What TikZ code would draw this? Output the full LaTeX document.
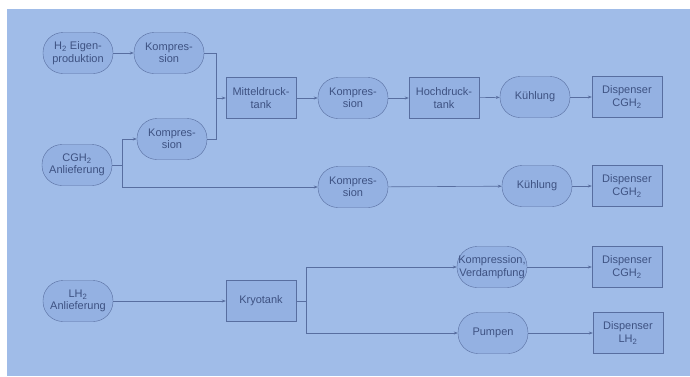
\documentclass[tikz,border=0pt]{standalone}
\usepackage{fontspec}
\setmainfont{Liberation Sans}
\usetikzlibrary{arrows.meta}
\definecolor{bgblue}{RGB}{160,188,232}
\definecolor{boxblue}{RGB}{148,177,226}
\definecolor{lineblue}{RGB}{88,110,160}
\definecolor{txtblue}{RGB}{62,82,130}
\tikzset{
    proc/.style={draw=lineblue, fill=boxblue, rounded corners=20pt, minimum width=70pt,
        minimum height=41pt, inner sep=0pt, align=center, text=txtblue,
        font=\fontsize{11}{12.5}\selectfont},
    tank/.style={proc, rounded corners=0pt},
    flow/.style={draw=lineblue, line width=0.6pt, -{Stealth[length=4pt,width=3pt]}},
    link/.style={draw=lineblue, line width=0.6pt}
}
\begin{document}
\begin{tikzpicture}[x=1pt, y=-1pt]
    % background
    \useasboundingbox (0,0) rectangle (690,376);
    \fill[white] (0,0) rectangle (690,376);
    \fill[bgblue] (7,9) rectangle (690,376);

    % upper line: compressed hydrogen via tanks
    \node[proc] (eigen) at (78,53) {H\textsubscript{2} Eigen-\\produktion};
    \node[proc] (komp1) at (169,53) {Kompres-\\sion};
    \node[proc] (cgh) at (77,165) {CGH\textsubscript{2}\\Anlieferung};
    \node[proc] (komp2) at (172,139) {Kompres-\\sion};
    \node[tank] (mitteltank) at (261,98) {Mitteldruck-\\tank};
    \node[proc] (komp3) at (353,98) {Kompres-\\sion};
    \node[tank] (hochtank) at (444,98) {Hochdruck-\\tank};
    \node[proc] (kuehl1) at (535,97) {Kühlung};
    \node[tank] (disp1) at (627,97) {Dispenser\\CGH\textsubscript{2}};

    % middle line: direct compression
    \node[proc] (komp4) at (353,187) {Kompres-\\sion};
    \node[proc] (kuehl2) at (537,186) {Kühlung};
    \node[tank] (disp2) at (627,186) {Dispenser\\CGH\textsubscript{2}};

    % lower line: liquid hydrogen
    \node[proc] (lh) at (78,301) {LH\textsubscript{2}\\Anlieferung};
    \node[tank] (kryo) at (261,301) {Kryotank};
    \node[proc] (verdampf) at (492,267) {Kompression,\\Verdampfung};
    \node[tank] (disp3) at (627,267) {Dispenser\\CGH\textsubscript{2}};
    \node[proc] (pumpen) at (493,333) {Pumpen};
    \node[tank] (disp4) at (628,333) {Dispenser\\LH\textsubscript{2}};

    % junctions
    \coordinate (jmitte) at (216,98);
    \coordinate (jcgh) at (122,165);
    \coordinate (jkryo) at (306,301);

    \draw[flow] (eigen) -- (komp1);
    \draw[link] (komp1.east) -| (jmitte);
    \draw[link] (komp2.east) -| (jmitte);
    \draw[flow] (jmitte) -- (mitteltank);
    \draw[link] (cgh.east) -- (jcgh);
    \draw[flow] (jcgh) |- (komp2.west);
    \draw[flow] (jcgh) |- (komp4.west);
    \draw[flow] (mitteltank) -- (komp3);
    \draw[flow] (komp3) -- (hochtank);
    \draw[flow] (hochtank) -- (kuehl1);
    \draw[flow] (kuehl1) -- (disp1);
    \draw[flow] (komp4) -- (kuehl2);
    \draw[flow] (kuehl2) -- (disp2);

    \draw[flow] (lh) -- (kryo);
    \draw[link] (kryo.east) -- (jkryo);
    \draw[flow] (jkryo) |- (verdampf.west);
    \draw[flow] (jkryo) |- (pumpen.west);
    \draw[flow] (verdampf) -- (disp3);
    \draw[flow] (pumpen) -- (disp4);
\end{tikzpicture}
\end{document}
